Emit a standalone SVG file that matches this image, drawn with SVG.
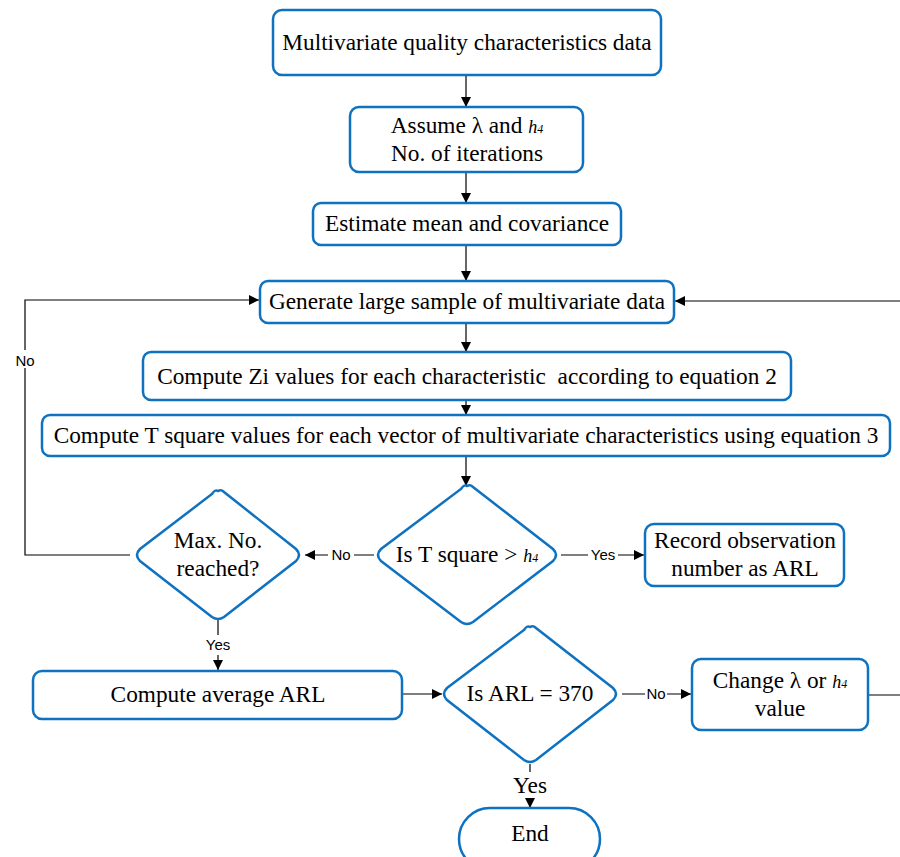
<svg xmlns="http://www.w3.org/2000/svg" width="900" height="857" viewBox="0 0 900 857">
<defs>
<marker id="ah" viewBox="0 0 10 10" refX="10" refY="5" markerWidth="10" markerHeight="10" markerUnits="userSpaceOnUse" orient="auto">
<path d="M0,0 L10,5 L0,10 z" fill="#000"/>
</marker>
<style>
.n{fill:#fff;stroke:#0f72c0;stroke-width:2.5}
.t{font-family:"Liberation Serif","Times New Roman",serif;font-size:23.3px;fill:#000;text-anchor:middle}
.l{font-family:"Liberation Sans",Arial,sans-serif;font-size:15px;fill:#000;text-anchor:middle}
.c{fill:none;stroke:#000;stroke-width:1.2}
.g{fill:none;stroke:#555;stroke-width:1.5}
.h{font-style:italic;font-size:18px}
.s{font-style:italic;font-size:12px}
</style>
</defs>
<rect width="900" height="857" fill="#fff"/>
<g id="connectors">
<line class="c" x1="466" y1="75" x2="466" y2="107" marker-end="url(#ah)"/>
<line class="c" x1="466" y1="172" x2="466" y2="203" marker-end="url(#ah)"/>
<line class="c" x1="466" y1="245" x2="466" y2="281" marker-end="url(#ah)"/>
<line class="c" x1="466" y1="323" x2="466" y2="352" marker-end="url(#ah)"/>
<line class="c" x1="466" y1="400" x2="466" y2="415" marker-end="url(#ah)"/>
<line class="c" x1="466" y1="456" x2="466" y2="486" marker-end="url(#ah)"/>
<line class="g" x1="561" y1="555" x2="588" y2="555"/>
<line class="g" x1="618" y1="555" x2="644" y2="555" marker-end="url(#ah)"/>
<text class="l" x="603" y="560">Yes</text>
<line class="g" x1="374" y1="555" x2="354" y2="555"/>
<line class="g" x1="328" y1="555" x2="305" y2="555" marker-end="url(#ah)"/>
<text class="l" x="341" y="560">No</text>
<polyline class="c" points="130,555 25,555 25,300 259,300" marker-end="url(#ah)"/>
<rect x="12" y="350" width="26" height="18" fill="#fff"/>
<text class="l" x="25" y="366">No</text>
<line class="c" x1="218" y1="620" x2="218" y2="635"/>
<text class="l" x="218" y="650">Yes</text>
<line class="c" x1="218" y1="655" x2="218" y2="670" marker-end="url(#ah)"/>
<line class="g" x1="402" y1="694" x2="442" y2="694" marker-end="url(#ah)"/>
<line class="g" x1="622" y1="694" x2="645" y2="694"/>
<line class="g" x1="667" y1="694" x2="691" y2="694" marker-end="url(#ah)"/>
<text class="l" x="656" y="699">No</text>
<line class="g" x1="868" y1="695" x2="905" y2="695"/>
<line class="g" x1="905" y1="301" x2="675" y2="301" marker-end="url(#ah)"/>
<line class="c" x1="530" y1="764" x2="530" y2="772"/>
<text class="t" x="530" y="793">Yes</text>
<line class="c" x1="530" y1="800" x2="530" y2="808" marker-end="url(#ah)"/>
</g>
<g id="n1"><rect class="n" x="273" y="10" width="388" height="65" rx="9"/><text class="t" x="467" y="50">Multivariate quality characteristics data</text></g>
<g id="n2"><rect class="n" x="350" y="107" width="233" height="65" rx="9"/><text class="t" x="467" y="133">Assume λ and <tspan class="h">h</tspan><tspan class="s">4</tspan></text><text class="t" x="467" y="161">No. of iterations</text></g>
<g id="n3"><rect class="n" x="313" y="203" width="308" height="42" rx="8"/><text class="t" x="467" y="231">Estimate mean and covariance</text></g>
<g id="n4"><rect class="n" x="260" y="281" width="414" height="42" rx="8"/><text class="t" x="467" y="309">Generate large sample of multivariate data</text></g>
<g id="n5"><rect class="n" x="143" y="352" width="648" height="48" rx="8"/><text class="t" x="467" y="384">Compute Zi values for each characteristic&#160; according to equation 2</text></g>
<g id="n6"><rect class="n" x="42" y="415" width="848" height="41" rx="8"/><text class="t" x="466" y="443">Compute T square values for each vector of multivariate characteristics using equation 3</text></g>
<g id="d1"><path class="n" d="M467,486 Q470,484 473,487 L553,549 Q559,555 553,561 L473,622 Q467,626 461,622 L381,561 Q375,555 381,549 L461,489 Q464,484 467,486 z"/><text class="t" x="467" y="562">Is T square &gt; <tspan class="h">h</tspan><tspan class="s">4</tspan></text></g>
<g id="n7"><rect class="n" x="645" y="524" width="199" height="62" rx="9"/><text class="t" x="745" y="548">Record observation</text><text class="t" x="745" y="576">number as ARL</text></g>
<g id="d2"><path class="n" d="M218,491 Q221,489 224,492 L296,549 Q302,555 296,561 L224,617 Q218,621 212,617 L140,561 Q134,555 140,549 L212,494 Q215,489 218,491 z"/><text class="t" x="218" y="548">Max. No.</text><text class="t" x="218" y="576">reached?</text></g>
<g id="n8"><rect class="n" x="33" y="671" width="369" height="48" rx="9"/><text class="t" x="218" y="702">Compute average ARL</text></g>
<g id="d3"><path class="n" d="M530,627 Q533,625 536,628 L613,688 Q619,694 613,700 L536,760 Q530,764 524,760 L447,700 Q441,694 447,688 L524,630 Q527,625 530,627 z"/><text class="t" x="530" y="701">Is ARL = 370</text></g>
<g id="n9"><rect class="n" x="692" y="659" width="176" height="71" rx="9"/><text class="t" x="780" y="688">Change λ or <tspan class="h">h</tspan><tspan class="s">4</tspan></text><text class="t" x="780" y="716">value</text></g>
<g id="n10"><rect class="n" x="459" y="808" width="141" height="62" rx="31"/><text class="t" x="530" y="841">End</text></g>
</svg>
